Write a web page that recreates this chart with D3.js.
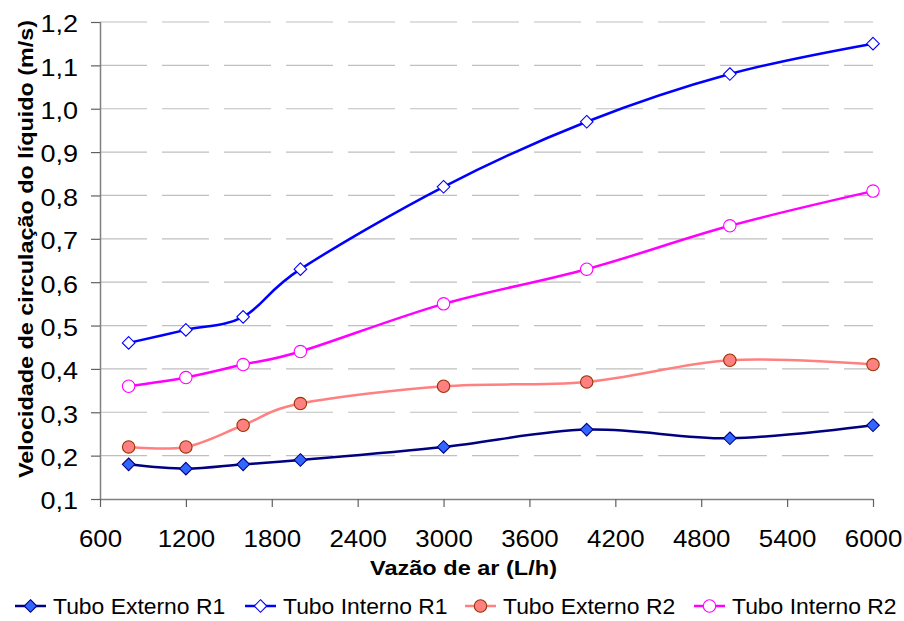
<!DOCTYPE html>
<html>
<head>
<meta charset="utf-8">
<script src="https://cdn.jsdelivr.net/npm/d3@7"></script>
<style>
  html, body { margin: 0; padding: 0; background: #fff; }
  svg { display: block; font-family: "Liberation Sans", Arial, sans-serif; }
</style>
</head>
<body>
<svg id="chart" width="904" height="621"></svg>
<script>
const vazao = [800, 1200, 1600, 2000, 3000, 4000, 5000, 6000];
const externoR1 = [0.18, 0.17, 0.18, 0.19, 0.22, 0.26, 0.24, 0.27];
const internoR1 = [0.46, 0.49, 0.52, 0.63, 0.82, 0.97, 1.08, 1.15];
const externoR2 = [0.22, 0.22, 0.27, 0.32, 0.36, 0.37, 0.42, 0.41];
const internoR2 = [0.36, 0.38, 0.41, 0.44, 0.55, 0.63, 0.73, 0.81];
const xTicks = [600, 1200, 1800, 2400, 3000, 3600, 4200, 4800, 5400, 6000];
const yTicks = [0.1, 0.2, 0.3, 0.4, 0.5, 0.6, 0.7, 0.8, 0.9, 1.0, 1.1, 1.2];
const seriesNames = ["Tubo Externo R1", "Tubo Interno R1", "Tubo Externo R2", "Tubo Interno R2"];

const series = [
  {name: seriesNames[0], values: externoR1, line: "#000080", fill: "#3366FF", stroke: "#000080", shape: "diamond"},
  {name: seriesNames[1], values: internoR1, line: "#0000FF", fill: "#FFFFFF", stroke: "#0000FF", shape: "diamond"},
  {name: seriesNames[2], values: externoR2, line: "#FF8080", fill: "#FF8080", stroke: "#993300", shape: "circle"},
  {name: seriesNames[3], values: internoR2, line: "#FF00FF", fill: "#FFFFFF", stroke: "#FF00FF", shape: "circle"}
];

const svg = d3.select("#chart");
const mLeft = 100, mRight = 873, mTop = 22, mBottom = 499;

const x = d3.scaleLinear().domain([600, 6000]).range([mLeft, mRight]);
const y = d3.scaleLinear().domain([0.1, 1.2]).range([mBottom, mTop]);

// horizontal stretch of text (reference text is wider than its height suggests)
function stretch(sel, k) {
  sel.each(function() {
    const len = this.getComputedTextLength();
    d3.select(this).attr("textLength", len * k).attr("lengthAdjust", "spacingAndGlyphs");
  });
}

// gridlines
svg.append("g").selectAll("line")
  .data(yTicks.filter(d => d > 0.1))
  .join("line")
  .attr("x1", mLeft).attr("x2", mRight)
  .attr("y1", d => y(d)).attr("y2", d => y(d))
  .attr("stroke", "#C0C0C0").attr("stroke-width", 1.2)
  .attr("stroke-dasharray", "47,15");

const fmt = d => d.toFixed(1).replace(".", ",");

// y axis
const yAxis = svg.append("g").attr("transform", `translate(${mLeft},0)`)
  .call(d3.axisLeft(y).tickValues(yTicks).tickFormat(fmt).tickSize(9).tickPadding(13));
// x axis
const xAxis = svg.append("g").attr("transform", `translate(0,${mBottom})`)
  .call(d3.axisBottom(x).tickValues(xTicks).tickFormat(d3.format("d")).tickSize(8).tickPadding(23));

[yAxis, xAxis].forEach(a => {
  a.select(".domain").attr("stroke", "#808080").attr("stroke-width", 1.5);
  a.selectAll(".tick line").attr("stroke", "#606060").attr("stroke-width", 1.2);
  a.selectAll(".tick text").attr("font-size", 23.5).attr("fill", "#000")
    .attr("font-family", "'Liberation Sans', Arial, sans-serif");
});
yAxis.selectAll(".tick text").attr("dy", "0.42em");
stretch(yAxis.selectAll(".tick text"), 1.15);
stretch(xAxis.selectAll(".tick text"), 1.1);
xAxis.select(".domain").attr("d", `M${mLeft},0.5H${mRight}`);
yAxis.select(".domain").attr("d", `M0.5,${mTop}V${mBottom}`);

// lines
const line = d3.line().x((d, i) => x(vazao[i])).y(d => y(d)).curve(d3.curveCardinal.tension(0));

const diamond = (s) => `M0,${-s}L${s},0L0,${s}L${-s},0Z`;

function drawMarker(g, s, cx, cy) {
  if (s.shape === "diamond") {
    g.append("path").attr("d", diamond(6.3)).attr("transform", `translate(${cx},${cy})`)
      .attr("fill", s.fill).attr("stroke", s.stroke).attr("stroke-width", 1.1);
  } else {
    g.append("circle").attr("cx", cx).attr("cy", cy).attr("r", 6.2)
      .attr("fill", s.fill).attr("stroke", s.stroke).attr("stroke-width", 1.1);
  }
}

series.forEach(s => {
  const g = svg.append("g");
  g.append("path").attr("d", line(s.values)).attr("fill", "none")
    .attr("stroke", s.line).attr("stroke-width", 2.5);
  s.values.forEach((v, i) => drawMarker(g, s, x(vazao[i]), y(v)));
});

// axis titles
svg.append("text")
  .attr("transform", `translate(33,249) rotate(-90)`)
  .attr("text-anchor", "middle")
  .attr("font-size", 20).attr("font-weight", "bold")
  .attr("textLength", 458).attr("lengthAdjust", "spacingAndGlyphs")
  .text("Velocidade de circulação do líquido (m/s)");

svg.append("text")
  .attr("x", 463.5).attr("y", 575)
  .attr("text-anchor", "middle")
  .attr("font-size", 21).attr("font-weight", "bold")
  .attr("textLength", 187).attr("lengthAdjust", "spacingAndGlyphs")
  .text("Vazão de ar (L/h)");

// legend
const legendX = [15, 245, 465, 694];
const legY = 606;
series.forEach((s, i) => {
  const g = svg.append("g");
  const lx = legendX[i];
  g.append("line").attr("x1", lx).attr("x2", lx + 31).attr("y1", legY).attr("y2", legY)
    .attr("stroke", s.line).attr("stroke-width", 2.5);
  drawMarker(g, s, lx + 15.5, legY);
  const t = g.append("text").attr("x", lx + 38).attr("y", legY + 8)
    .attr("font-size", 21.4).text(s.name);
  stretch(t, 1.07);
});
</script>
</body>
</html>
